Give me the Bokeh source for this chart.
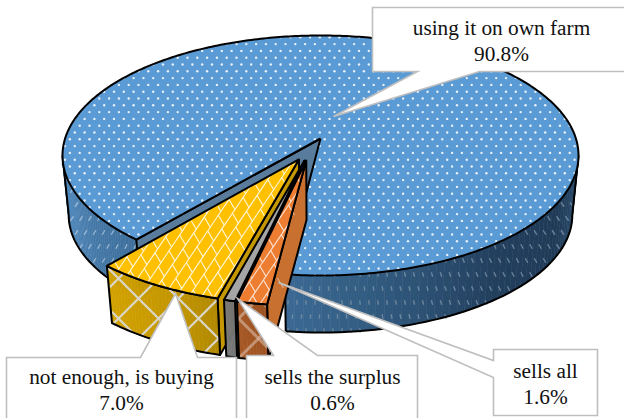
import numpy as np
from bokeh.core.properties import value
from bokeh.embed import file_html
from bokeh.models import Range1d
from bokeh.plotting import figure
from bokeh.resources import INLINE

# Survey shares, in drawing order around the pie
categories = ["using it on own farm", "sells all", "sells the surplus", "not enough, is buying"]
shares = [90.8, 1.6, 0.6, 7.0]
top_colors = ["#5B9BD5", "#ED7D31", "#A5A5A5", "#FFC000"]
cut_colors = ["#5A7C9C", "#C8702F", "#8A8A8A", "#C69800"]

# 3-D pie projection: perspective on the disc, then a lower rim for the thickness
FIRST_ANGLE = 130.0
EXPLODE = 0.096
PERSP = 0.1417
RX, RY = 255.4, 117.6
CX, CY = 320.0, 138.0
LOW_X, LOW_Y, DEPTH = 0.976, 0.98, 59.7
# rim angles where the disc's outline turns away from the viewer
RIGHT_EDGE = 360 + float(np.degrees(np.arcsin(PERSP)))
LEFT_EDGE = 180 - float(np.degrees(np.arcsin(PERSP)))


def project(u, v, low=False):
    u, v = np.asarray(u, float), np.asarray(v, float)
    w = 1 - PERSP * v
    x, y = RX * u / w, RY * v / w
    if low:
        x, y = x * LOW_X, y * LOW_Y + DEPTH
    return CX + x, CY + y


def unit(deg):
    r = np.radians(deg)
    return np.cos(r), np.sin(r)


def inside(px, py, xs, ys):
    px, py = np.asarray(px), np.asarray(py)
    res = np.zeros(px.shape, bool)
    j = len(xs) - 1
    for i in range(len(xs)):
        cross = (ys[i] > py) != (ys[j] > py)
        with np.errstate(divide="ignore", invalid="ignore"):
            at = (xs[j] - xs[i]) * (py - ys[i]) / (ys[j] - ys[i]) + xs[i]
        res ^= cross & (px < at)
        j = i
    return res


def clipped_lines(lines, poly, step=1.5):
    out_x, out_y = [], []
    for (x0, y0, x1, y1) in lines:
        n = max(2, int(np.hypot(x1 - x0, y1 - y0) / step))
        t = np.linspace(0, 1, n)
        xs, ys = x0 + (x1 - x0) * t, y0 + (y1 - y0) * t
        keep = inside(xs, ys, *poly)
        start = None
        for i, k in enumerate(list(keep) + [False]):
            if k and start is None:
                start = i
            elif not k and start is not None:
                if i - start > 1:
                    out_x.append(list(xs[start:i]))
                    out_y.append(list(ys[start:i]))
                start = None
    return out_x, out_y


def shingle_lines():
    # long rising strokes with short staggered connectors between them
    lines = []
    dx, dy = 0.56, -0.83
    nx, ny = 0.83, 0.56
    gap, pitch = 10.5, 19.0
    for i in range(-60, 60):
        ox, oy = 200 + nx * gap * i, 260 + ny * gap * i
        lines.append((ox - dx * 300, oy - dy * 300, ox + dx * 300, oy + dy * 300))
        for j in range(-16, 17):
            s = pitch * j + (i % 2) * pitch / 2
            lines.append((ox + dx * s, oy + dy * s,
                          ox + dx * s + nx * gap - dx * 5, oy + dy * s + ny * gap - dy * 5))
    return lines


def diamond_lines():
    # lattice of two diagonal families crossing near (138, 298)
    lines = []
    for i in range(-12, 12):
        o = 40.0 * i
        a = -160 + o
        b = 436 + o
        lines.append((180 + a, 180, 420 + a, 420))
        lines.append((b - 180, 180, b - 420, 420))
    return lines


def mix(colors, t):
    stops = np.linspace(0, 1, len(colors))
    rgb = [[int(c[i:i + 2], 16) for i in (1, 3, 5)] for c in colors]
    vals = [np.interp(t, stops, [c[k] for c in rgb]) for k in range(3)]
    return "#%02x%02x%02x" % tuple(int(round(x)) for x in vals)


p = figure(width=624, height=418, output_backend="svg", toolbar_location=None,
           x_range=Range1d(0, 624), y_range=Range1d(418, 0), min_border=0)
p.axis.visible = False
p.grid.visible = False
p.outline_line_color = None
p.background_fill_color = "white"
p.border_fill_color = "white"

# slice angles follow from the shares
sweeps = [s * 3.6 for s in shares]
starts = [FIRST_ANGLE + sum(sweeps[:i]) for i in range(len(sweeps))]
mids = [a + w / 2 for a, w in zip(starts, sweeps)]
mu, mv = unit(mids[0])
centre_u, centre_v = -EXPLODE * mu, -EXPLODE * mv
apexes = []
for m in mids:
    du, dv = unit(m)
    apexes.append((centre_u + EXPLODE * du, centre_v + EXPLODE * dv))


def rim(i, deg, low=False):
    uu, vv = unit(np.asarray(deg, float))
    return project(apexes[i][0] + uu, apexes[i][1] + vv, low)


def outline(xs, ys, width=2.0):
    p.line(list(xs), list(ys), line_color="black", line_width=width, line_join="round")


def wall(i, a0, a1, stops, steps=50):
    degs = np.linspace(a0, a1, steps + 1)
    tx, ty = rim(i, degs)
    bx, by = rim(i, degs, True)
    for k in range(steps):
        col = mix(stops, k / (steps - 1))
        p.patch([tx[k], tx[k + 1], bx[k + 1], bx[k]], [ty[k], ty[k + 1], by[k + 1], by[k]],
                fill_color=col, line_color=col, line_width=0.6)
    return (list(tx) + list(bx[::-1]), list(ty) + list(by[::-1])), (bx, by), (tx, ty)


def cut_wall(i, deg, color):
    ax, ay = project(*apexes[i])
    lx, ly = project(*apexes[i], True)
    rx, ry = rim(i, deg)
    qx, qy = rim(i, deg, True)
    xs, ys = [float(ax), float(rx), float(qx), float(lx)], [float(ay), float(ry), float(qy), float(ly)]
    p.patch(xs, ys, fill_color=color, line_color="black", line_width=2.0, line_join="round")
    return xs, ys


def top_face(i, a0, a1, color, n=240):
    ax, ay = project(*apexes[i])
    rx, ry = rim(i, np.linspace(a0, a1, n))
    xs = [float(ax)] + list(rx) + [float(ax)]
    ys = [float(ay)] + list(ry) + [float(ay)]
    p.patch(xs, ys, fill_color=color, line_color=None)
    return xs, ys


def dashes(poly, pitch_x, pitch_y, color, length=4.5, width=1.4):
    xs, ys = [], []
    for r, y in enumerate(np.arange(120, 400, pitch_y)):
        for x in np.arange(40 + (r % 2) * pitch_x / 2, 600, pitch_x):
            xs.append(x)
            ys.append(y)
    xs, ys = np.array(xs), np.array(ys)
    keep = inside(xs, ys, *poly)
    xs, ys = xs[keep], ys[keep]
    lean = -(xs - CX) / 258 * 1.6
    p.multi_line([[a + b, a - b] for a, b in zip(xs, lean)],
                 [[c - length / 2, c + length / 2] for c in ys],
                 line_color=color, line_width=width, line_alpha=0.8)


# ---- main slice: outer wall both sides of the gap, cut face, then the dotted top
a0, a1 = starts[0], starts[0] + sweeps[0]
left_poly, left_low, left_top = wall(0, a0, LEFT_EDGE, ["#3F709C", "#4578A6", "#4E85B7", "#5188BA"])
dashes(left_poly, 9.0, 14.0, "#A9C3DC")
outline(list(left_low[0]) + [left_top[0][-1]], list(left_low[1]) + [left_top[1][-1]])
right_poly, right_low, right_top = wall(0, a1, RIGHT_EDGE, ["#3B6993", "#2F5679", "#233F5E", "#203B58", "#2A4C6E"])
dashes(right_poly, 9.0, 14.0, "#7C93A8")
outline(list(right_low[0]) + [right_top[0][-1]], list(right_low[1]) + [right_top[1][-1]])
ex, ey = rim(0, a1, True)
outline([rim(0, a1)[0], ex], [rim(0, a1)[1], ey])
cut_wall(0, a0, cut_colors[0])
tx, ty = top_face(0, a0, a1, top_colors[0], 400)
gx, gy = np.meshgrid(np.arange(40, 600, 9.8), np.arange(30, 290, 6.8))
gx = gx + (np.arange(gx.shape[0])[:, None] % 2) * 4.9
gx, gy = gx.ravel(), gy.ravel()
m = inside(gx, gy, tx, ty)
p.scatter(gx[m], gy[m], marker="circle", size=2.4, fill_color="#E8F1F9", line_color=None)
outline(tx, ty)

# ---- buying slice: cut face, outer wall with diamond lattice, brick-textured top
i = 3
b0, b1 = starts[i], starts[i] + sweeps[i]
cut_wall(i, b0, cut_colors[i])
poly, low, _ = wall(i, b1, b0, ["#D2A200", "#CB9C00", "#C29500", "#B28900"], 30)
lx, ly = clipped_lines(diamond_lines(), poly)
p.multi_line(lx, ly, line_color="#DAD6C8", line_width=2.2)
outline(poly[0] + poly[0][:1], poly[1] + poly[1][:1])
tx, ty = top_face(i, b0, b1, top_colors[i], 60)
lx, ly = clipped_lines(shingle_lines(), (tx, ty))
p.multi_line(lx, ly, line_color="#FFF6DC", line_width=1.1)
outline(tx, ty)

# ---- surplus slice
i = 2
b0, b1 = starts[i], starts[i] + sweeps[i]
cut_wall(i, b0, cut_colors[i])
poly, low, _ = wall(i, b1, b0, ["#7A7A7A", "#727272"], 6)
outline(poly[0] + poly[0][:1], poly[1] + poly[1][:1])
tx, ty = top_face(i, b0, b1, top_colors[i], 10)
outline(tx, ty)

# ---- sells-all slice
i = 1
b0, b1 = starts[i], starts[i] + sweeps[i]
cxs, cys = cut_wall(i, b0, cut_colors[i])
lx, ly = clipped_lines(shingle_lines()[::7], (cxs, cys))
p.multi_line(lx, ly, line_color="#EBC9AE", line_width=1.0)
poly, low, _ = wall(i, b1, b0, ["#A85A26", "#9C5222"], 10)
lx, ly = clipped_lines(diamond_lines(), poly)
p.multi_line(lx, ly, line_color="#D8BBA6", line_width=3.0, line_alpha=0.6)
outline(poly[0] + poly[0][:1], poly[1] + poly[1][:1])
tx, ty = top_face(i, b0, b1, top_colors[i], 16)
lx, ly = clipped_lines(shingle_lines(), (tx, ty))
p.multi_line(lx, ly, line_color="#FBE3D2", line_width=1.1)
outline(tx, ty)

# ---- callouts
BOX = "#BFBFBF"
callouts = [
    ([372, 417, 333, 479, 630, 630, 372], [71, 71, 116, 71, 71, 7, 7], 501, 27, 0),
    ([493, 493, 278, 493, 493, 597, 597], [349, 360, 282, 377, 415, 415, 349], 545, 370, 1),
    ([246, 273, 237, 317, 417, 417, 246, 246], [355, 355, 298, 355, 355, 425, 425, 355], 332, 376, 2),
    ([6, 140, 175, 197, 236, 236, 6, 6], [357, 357, 293, 357, 357, 425, 425, 357], 121, 376, 3),
]
for xs, ys, tx_, ty_, idx in callouts:
    p.patch(xs, ys, fill_color="white", line_color=BOX, line_width=1.6, line_join="miter")
    p.text([tx_, tx_], [ty_, ty_ + 26], text=[categories[idx], f"{shares[idx]:.1f}%"],
           text_font=value("Liberation Serif"), text_font_size="21.3px", text_color="#111111",
           text_align="center", text_baseline="middle")

open("out.html", "w").write(file_html(p, INLINE))
